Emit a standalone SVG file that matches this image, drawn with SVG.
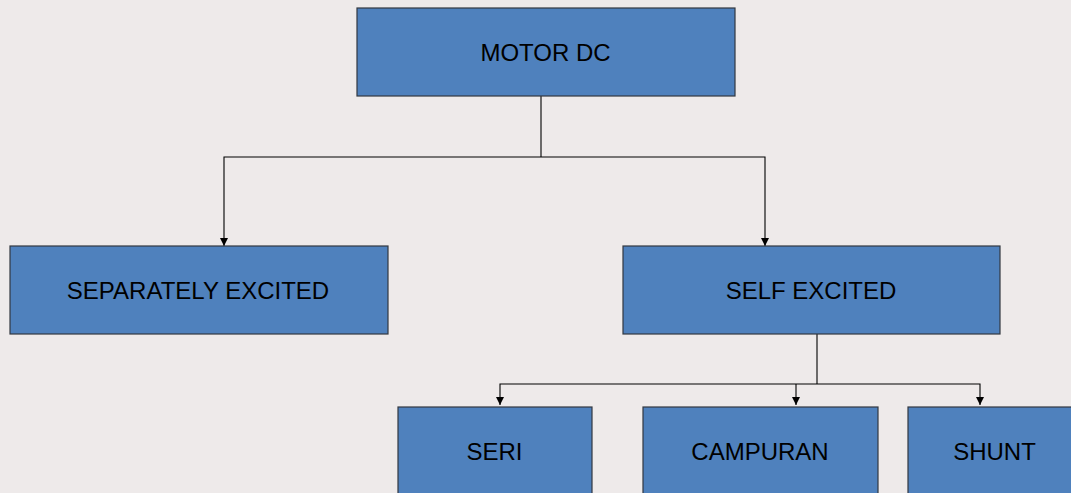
<svg xmlns="http://www.w3.org/2000/svg" width="1071" height="493" viewBox="0 0 1071 493">
<style>
.box{fill:#4F81BD;stroke:#333840;stroke-width:1.2}
.lbl{font-family:"Liberation Sans",Arial,sans-serif;font-size:24px;fill:#000;text-anchor:middle;dominant-baseline:central}
.con{fill:none;stroke:#000;stroke-width:1.1}
</style>
<defs>
<marker id="arr" viewBox="0 0 10 10" refX="10" refY="5" markerWidth="8" markerHeight="8" markerUnits="userSpaceOnUse" orient="auto">
<path d="M0,0 L10,5 L0,10 z" fill="#000"/>
</marker>
</defs>
<rect width="1071" height="493" fill="#EEEAEA"/>
<g id="connectors">
<path class="con" d="M541,96 V157"/>
<path class="con" d="M541,157 H224 V246" marker-end="url(#arr)"/>
<path class="con" d="M541,157 H765 V246" marker-end="url(#arr)"/>
<path class="con" d="M817,334 V384"/>
<path class="con" d="M817,384 H500 V405" marker-end="url(#arr)"/>
<path class="con" d="M796,384 V405" marker-end="url(#arr)"/>
<path class="con" d="M817,384 H980 V405" marker-end="url(#arr)"/>
</g>
<g id="motor-dc"><rect class="box" x="357" y="8" width="378" height="88"/><text class="lbl" x="545.5" y="52">MOTOR DC</text></g>
<g id="separately-excited"><rect class="box" x="10" y="246" width="378" height="88"/><text class="lbl" x="198" y="290">SEPARATELY EXCITED</text></g>
<g id="self-excited"><rect class="box" x="623" y="246" width="377" height="88"/><text class="lbl" x="811" y="290">SELF EXCITED</text></g>
<g id="seri"><rect class="box" x="398" y="407" width="194" height="95"/><text class="lbl" x="494.5" y="451">SERI</text></g>
<g id="campuran"><rect class="box" x="643" y="407" width="235" height="95"/><text class="lbl" x="760" y="451">CAMPURAN</text></g>
<g id="shunt"><rect class="box" x="908" y="407" width="175" height="95"/><text class="lbl" x="994.5" y="451">SHUNT</text></g>
</svg>
